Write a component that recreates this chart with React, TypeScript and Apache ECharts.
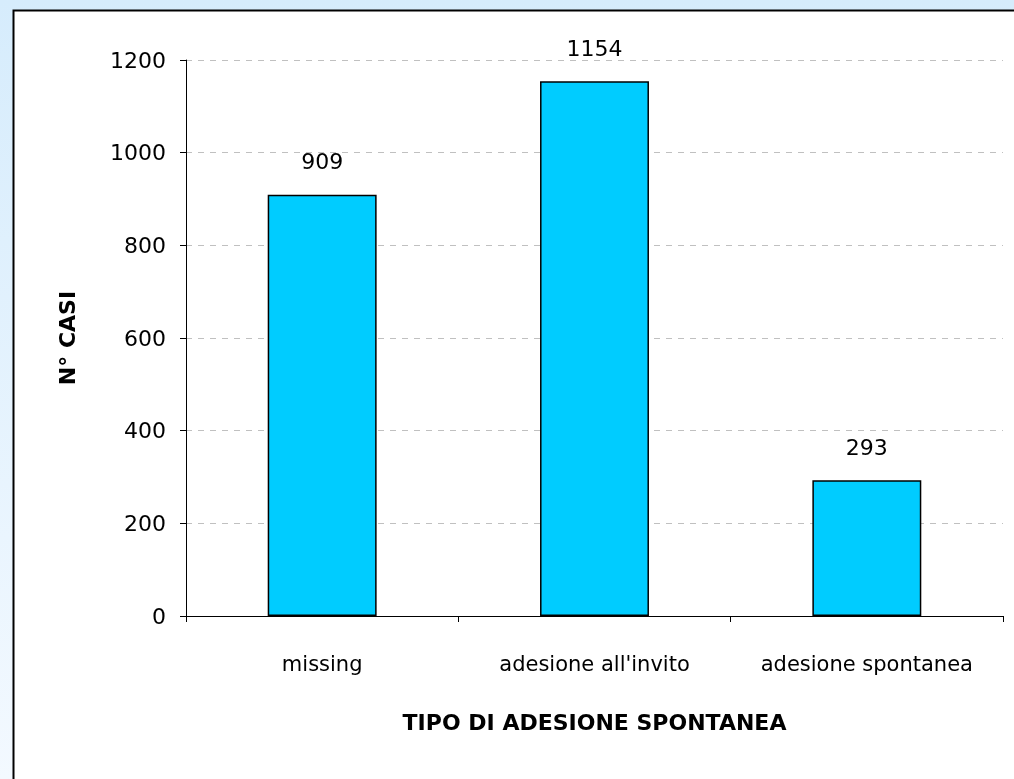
import React, { useEffect, useRef } from "react";
import * as echarts from "echarts";

const categories = ["missing", "adesione all'invito", "adesione spontanea"];
const values = [909, 1154, 293];
const yTicks = [0, 200, 400, 600, 800, 1000, 1200];

const FONT = "'Comic Sans MS', 'DejaVu Sans', sans-serif";

export default function App() {
  const ref = useRef<HTMLDivElement>(null);
  useEffect(() => {
    const chart = echarts.init(ref.current!, null, { renderer: "svg" });
    chart.setOption({
      animation: false,
      graphic: [
        {
          type: "rect",
          z: -10,
          shape: { x: 0, y: 0, width: 1014, height: 779 },
          style: {
            fill: new echarts.graphic.LinearGradient(0, 0, 0, 1, [
              { offset: 0, color: "#d6ecfc" },
              { offset: 1, color: "#f3f9ff" },
            ]),
          },
          silent: true,
        },
        {
          type: "rect",
          z: -9,
          shape: { x: 13.5, y: 10.5, width: 1020, height: 800 },
          style: { fill: "#ffffff", stroke: "#000000", lineWidth: 2 },
          silent: true,
        },
      ],
      grid: { left: 186, top: 60, right: 11, bottom: 163, containLabel: false },
      xAxis: {
        type: "category",
        data: categories,
        name: "TIPO DI ADESIONE SPONTANEA",
        nameLocation: "middle",
        nameGap: 95,
        nameTextStyle: { fontFamily: FONT, fontSize: 22, fontWeight: "bold", color: "#000" },
        axisLine: { lineStyle: { color: "#000", width: 1 } },
        axisTick: { show: true, interval: 0, alignWithLabel: false, length: 6, lineStyle: { color: "#000" } },
        axisLabel: { fontFamily: FONT, fontSize: 21, color: "#000", margin: 37, interval: 0, hideOverlap: false },
      },
      yAxis: {
        type: "value",
        min: 0,
        max: 1200,
        interval: 200,
        name: "N° CASI",
        nameLocation: "middle",
        nameGap: 108,
        nameRotate: 90,
        nameTextStyle: { fontFamily: FONT, fontSize: 22, fontWeight: "bold", color: "#000" },
        axisLine: { show: true, lineStyle: { color: "#000", width: 1 } },
        axisTick: { show: true, length: 6, lineStyle: { color: "#000" } },
        axisLabel: {
          fontFamily: FONT,
          fontSize: 22,
          color: "#000",
          margin: 20,
          formatter: (v: number) => (yTicks.includes(v) ? String(v) : ""),
        },
        splitLine: { show: true, lineStyle: { color: "#c0c0c0", type: [6, 6], width: 1 } },
      },
      series: [
        {
          type: "bar",
          data: values,
          barWidth: "40%",
          itemStyle: { color: "#00ccff", borderColor: "#000", borderWidth: 1.5 },
          label: {
            show: true,
            position: "top",
            distance: 22,
            fontFamily: FONT,
            fontSize: 22,
            color: "#000",
          },
        },
      ],
    });
    return () => chart.dispose();
  }, []);
  return (
    <div
      ref={ref}
      style={{ position: "fixed", left: 0, top: 0, width: 1014, height: 779 }}
    />
  );
}
